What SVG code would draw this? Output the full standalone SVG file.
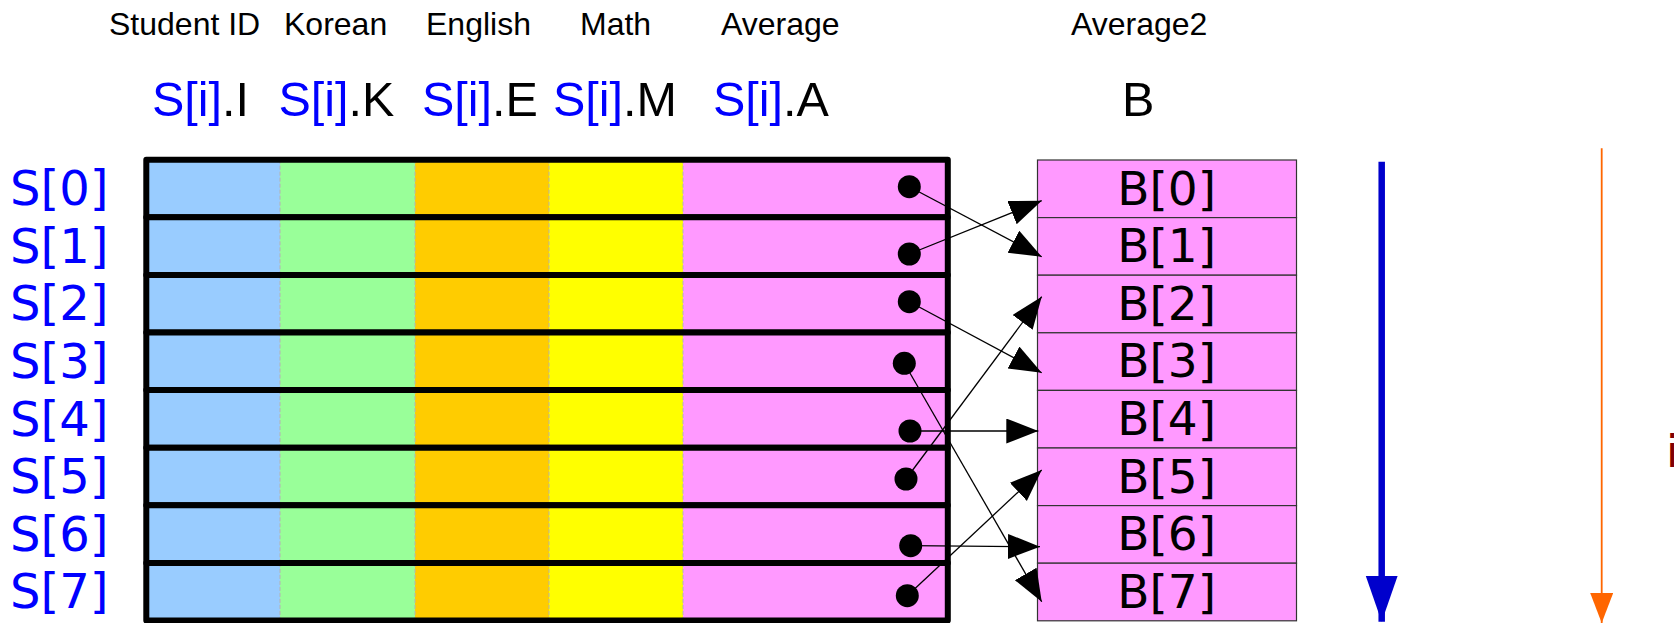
<svg xmlns="http://www.w3.org/2000/svg" width="1674" height="623" viewBox="0 0 1674 623">
  <style>
    .hdr { font-family: "Liberation Sans", Arial, sans-serif; font-size: 32px; fill: #000; }
    .fld { font-family: "Liberation Sans", Arial, sans-serif; font-size: 48.5px; fill: #000; }
    .blu { fill: #0000ff; }
    .idx { font-family: "DejaVu Sans", sans-serif; font-size: 48px; fill: #0000ff; }
    .bl  { font-family: "DejaVu Sans", sans-serif; font-size: 47px; fill: #000; text-anchor: middle; }
    .c-id { fill: #99ccff; }
    .c-ko { fill: #99ff99; }
    .c-en { fill: #ffcc00; }
    .c-ma { fill: #ffff00; }
    .c-av { fill: #ff99ff; }
    .sep { stroke: #b3b3b3; stroke-width: 1; stroke-dasharray: 4 2; }
    .frame { fill: none; stroke: #000; stroke-width: 6; stroke-linejoin: round; }
    .dot { fill: #000; }
    .bbox { fill: #ff99ff; stroke: #333; stroke-width: 1.2; }
    .link { stroke: #000; stroke-width: 1.3; fill: none; marker-end: url(#ah); }
  </style>
  <defs>
    <marker id="ah" markerUnits="userSpaceOnUse" markerWidth="34" markerHeight="26" refX="32" refY="12.5" orient="auto">
      <path d="M0,0 L32,12.5 L0,25 z" fill="#000"/>
    </marker>
    <marker id="ahBlue" markerUnits="userSpaceOnUse" markerWidth="48" markerHeight="33" refX="46" refY="16" orient="auto">
      <path d="M0,0 L46,16 L0,32 z" fill="#0000cc"/>
    </marker>
    <marker id="ahOrange" markerUnits="userSpaceOnUse" markerWidth="31" markerHeight="24" refX="30" refY="11.5" orient="auto">
      <path d="M0,0 L30,11.5 L0,23 z" fill="#ff6600"/>
    </marker>
    <g id="rowCells">
      <rect class="c-id" x="146.3" y="0" width="133.7" height="57.6"/>
      <rect class="c-ko" x="280" y="0" width="135" height="57.6"/>
      <rect class="c-en" x="415" y="0" width="134" height="57.6"/>
      <rect class="c-ma" x="549" y="0" width="134" height="57.6"/>
      <rect class="c-av" x="683" y="0" width="264.8" height="57.6"/>
      <line class="sep" x1="280" y1="0" x2="280" y2="57.6"/>
      <line class="sep" x1="415" y1="0" x2="415" y2="57.6"/>
      <line class="sep" x1="549" y1="0" x2="549" y2="57.6"/>
      <line class="sep" x1="683" y1="0" x2="683" y2="57.6"/>
      <rect class="frame" x="146.3" y="0" width="801.5" height="57.6"/>
    </g>
  </defs>

  <rect width="1674" height="623" fill="#fff"/>

  <!-- column headings -->
  <g id="headings">
    <text class="hdr" x="109" y="34.5">Student ID</text>
    <text class="hdr" x="284" y="34.5">Korean</text>
    <text class="hdr" x="426" y="34.5">English</text>
    <text class="hdr" x="580" y="34.5">Math</text>
    <text class="hdr" x="721" y="34.5">Average</text>
    <text class="hdr" x="1071" y="34.5">Average2</text>
  </g>

  <!-- field accessors -->
  <g id="fields">
    <text class="fld" x="152" y="115.5"><tspan class="blu">S[i]</tspan>.I</text>
    <text class="fld" x="278.5" y="115.5"><tspan class="blu">S[i]</tspan>.K</text>
    <text class="fld" x="422" y="115.5"><tspan class="blu">S[i]</tspan>.E</text>
    <text class="fld" x="553" y="115.5"><tspan class="blu">S[i]</tspan>.M</text>
    <text class="fld" x="713" y="115.5"><tspan class="blu">S[i]</tspan>.A</text>
    <text class="fld" x="1122" y="115.5">B</text>
  </g>

  <!-- struct array S -->
  <g id="S0"><g transform="translate(0,159.7)"><use href="#rowCells"/><text class="idx" x="10" y="45.5">S[0]</text></g><circle class="dot" cx="909.3" cy="186.7" r="11.5"/></g>
  <g id="S1"><g transform="translate(0,217.3)"><use href="#rowCells"/><text class="idx" x="10" y="45.5">S[1]</text></g><circle class="dot" cx="909.3" cy="254" r="11.5"/></g>
  <g id="S2"><g transform="translate(0,274.9)"><use href="#rowCells"/><text class="idx" x="10" y="45.5">S[2]</text></g><circle class="dot" cx="909.3" cy="301.7" r="11.5"/></g>
  <g id="S3"><g transform="translate(0,332.5)"><use href="#rowCells"/><text class="idx" x="10" y="45.5">S[3]</text></g><circle class="dot" cx="904.3" cy="363.3" r="11.5"/></g>
  <g id="S4"><g transform="translate(0,390.1)"><use href="#rowCells"/><text class="idx" x="10" y="45.5">S[4]</text></g><circle class="dot" cx="910" cy="431" r="11.5"/></g>
  <g id="S5"><g transform="translate(0,447.7)"><use href="#rowCells"/><text class="idx" x="10" y="45.5">S[5]</text></g><circle class="dot" cx="906" cy="479" r="11.5"/></g>
  <g id="S6"><g transform="translate(0,505.3)"><use href="#rowCells"/><text class="idx" x="10" y="45.5">S[6]</text></g><circle class="dot" cx="910.7" cy="545.7" r="11.5"/></g>
  <g id="S7"><g transform="translate(0,562.9)"><use href="#rowCells"/><text class="idx" x="10" y="45.5">S[7]</text></g><circle class="dot" cx="907.3" cy="595.7" r="11.5"/></g>

  <!-- array B -->
  <g id="B0"><rect class="bbox" x="1037.5" y="160" width="259" height="57.6"/><text class="bl" x="1166.7" y="204.5">B[0]</text></g>
  <g id="B1"><rect class="bbox" x="1037.5" y="217.6" width="259" height="57.6"/><text class="bl" x="1166.7" y="262.1">B[1]</text></g>
  <g id="B2"><rect class="bbox" x="1037.5" y="275.2" width="259" height="57.6"/><text class="bl" x="1166.7" y="319.7">B[2]</text></g>
  <g id="B3"><rect class="bbox" x="1037.5" y="332.8" width="259" height="57.6"/><text class="bl" x="1166.7" y="377.3">B[3]</text></g>
  <g id="B4"><rect class="bbox" x="1037.5" y="390.4" width="259" height="57.6"/><text class="bl" x="1166.7" y="434.9">B[4]</text></g>
  <g id="B5"><rect class="bbox" x="1037.5" y="448" width="259" height="57.6"/><text class="bl" x="1166.7" y="492.5">B[5]</text></g>
  <g id="B6"><rect class="bbox" x="1037.5" y="505.6" width="259" height="57.6"/><text class="bl" x="1166.7" y="550.1">B[6]</text></g>
  <g id="B7"><rect class="bbox" x="1037.5" y="563.2" width="259" height="57.6"/><text class="bl" x="1166.7" y="607.7">B[7]</text></g>

  <!-- copy connectors S[k].A -> B[j] -->
  <g id="connectors">
    <line class="link" x1="909.3" y1="186.7" x2="1041.7" y2="256.7"/>
    <line class="link" x1="909.3" y1="254" x2="1041.7" y2="200.7"/>
    <line class="link" x1="909.3" y1="301.7" x2="1041.7" y2="372.7"/>
    <line class="link" x1="904.3" y1="363.3" x2="1041.7" y2="601.7"/>
    <line class="link" x1="910" y1="431" x2="1038.3" y2="431"/>
    <line class="link" x1="906" y1="479" x2="1041.7" y2="296.7"/>
    <line class="link" x1="910.7" y1="545.7" x2="1040" y2="546.7"/>
    <line class="link" x1="907.3" y1="595.7" x2="1041.7" y2="470"/>
  </g>

  <!-- iteration direction arrows -->
  <g id="loopArrows">
    <line x1="1381.7" y1="161.7" x2="1381.7" y2="621.7" stroke="#0000cc" stroke-width="6.5" marker-end="url(#ahBlue)"/>
    <line x1="1601.7" y1="148.3" x2="1601.7" y2="623" stroke="#ff6600" stroke-width="1.8" marker-end="url(#ahOrange)"/>
    <text x="1666" y="467.3" font-family="'DejaVu Sans', sans-serif" font-size="45px" fill="#800000">i</text>
  </g>
</svg>
